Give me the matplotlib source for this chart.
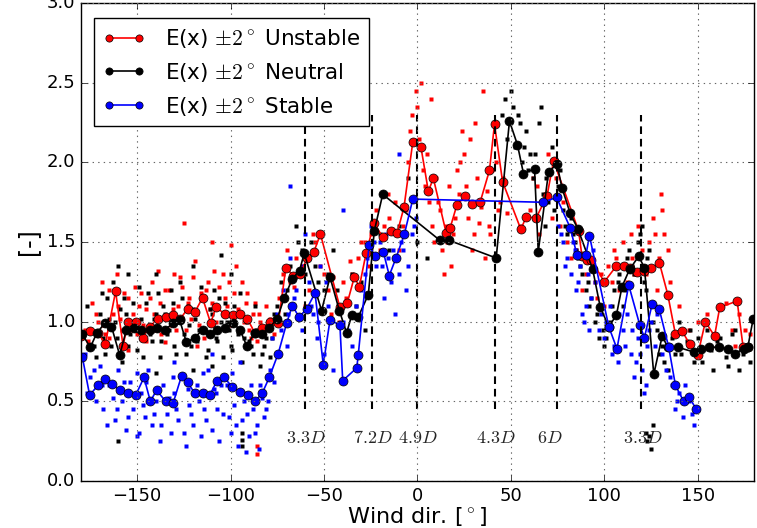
import matplotlib
matplotlib.use("Agg")
from matplotlib import pyplot as plt

plt.style.use("classic")

# Linhas E(x) +-2 graus
unst_x = [-179.8, -175.4, -170.9, -167.0, -161.5, -157.5, -154.8, -150.7, -147.1, -143.2,
          -138.8, -134.7, -130.7, -126.8, -123.0, -119.1, -115.0, -110.6, -107.9, -103.1,
          -98.9, -95.0, -91.1, -87.0, -83.1, -79.0, -74.5, -70.4, -66.5, -62.9,
          -58.9, -55.4, -51.9, -41.5, -37.5, -33.8, -31.1, -27.5, -23.2, -18.6,
          -14.4, -10.8, -7.2, -2.5, 1.8, 5.8, 8.5, 15.3, 17.5, 21.0,
          25.5, 29.1, 33.5, 38.5, 41.2, 45.5, 55.3, 58.2, 63.4, 69.3,
          72.8, 86.2, 88.0, 90.7, 93.0, 99.9, 106.4, 110.3, 113.9, 117.5,
          121.4, 125.1, 129.4, 133.9, 138.0, 141.6, 145.6, 149.9, 154.0, 158.9,
          161.7, 171.0, 174.2, 176.9]
unst_y = [0.91, 0.94, 0.93, 0.86, 1.19, 0.85, 1.00, 1.00, 0.90, 0.97,
          1.02, 1.03, 1.04, 1.02, 1.08, 1.06, 1.15, 0.99, 1.09, 1.05,
          1.04, 1.05, 1.02, 0.93, 0.96, 1.00, 0.99, 1.34, 1.29, 1.30,
          1.40, 1.44, 1.55, 1.09, 1.12, 1.28, 1.22, 1.43, 1.62, 1.53,
          1.57, 1.56, 1.72, 2.13, 2.10, 1.82, 1.90, 1.56, 1.59, 1.73,
          1.79, 1.74, 1.75, 1.95, 2.24, 1.88, 1.58, 1.66, 1.65, 1.79,
          2.01, 1.57, 1.41, 1.39, 1.39, 1.25, 1.35, 1.35, 1.34, 1.31,
          1.32, 1.34, 1.37, 1.17, 0.92, 0.94, 0.86, 0.79, 1.00, 0.91,
          1.09, 1.13, 0.84, 0.84]

neut_x = [-179.3, -175.0, -171.5, -167.3, -163.7, -159.3, -155.7, -151.8, -147.7, -143.2,
          -139.6, -135.2, -130.7, -127.2, -123.6, -119.1, -115.0, -111.1, -107.5, -103.1,
          -98.6, -95.0, -91.4, -87.0, -83.4, -79.3, -75.0, -71.3, -66.9, -63.1,
          -60.6, -51.3, -46.8, -41.8, -37.9, -35.2, -31.7, -26.3, -23.1, -18.6,
          12.1, 17.1, 42.1, 49.2, 53.5, 56.7, 62.6, 64.6, 70.1, 74.6,
          77.3, 81.7, 85.9, 93.7, 97.8, 102.3, 106.4, 109.4, 113.5, 118.3,
          121.4, 126.4, 130.9, 133.9, 139.2, 147.8, 151.7, 155.8, 161.2, 166.0,
          169.7, 174.6, 176.7, 179.6]
neut_y = [0.92, 0.84, 0.93, 0.99, 0.97, 0.79, 0.95, 0.96, 0.95, 0.95,
          0.96, 0.95, 0.99, 1.01, 0.87, 0.90, 0.95, 0.92, 0.95, 0.96,
          0.99, 0.95, 0.85, 0.93, 0.92, 0.96, 1.02, 1.15, 1.27, 1.32,
          1.43, 1.07, 1.28, 1.07, 0.93, 1.04, 1.03, 1.17, 1.57, 1.80,
          1.51, 1.51, 1.40, 2.26, 2.11, 1.93, 1.96, 1.44, 1.94, 1.99,
          1.84, 1.68, 1.58, 1.33, 1.09, 0.97, 1.04, 1.22, 1.33, 1.41,
          1.34, 0.67, 0.91, 0.84, 0.84, 0.81, 0.83, 0.84, 0.84, 0.83,
          0.80, 0.83, 0.84, 1.02]

stab_x = [-179.3, -175.4, -170.9, -167.0, -163.4, -159.3, -154.8, -150.7, -146.3, -142.9,
          -139.6, -134.7, -130.7, -126.2, -123.0, -119.1, -115.0, -111.1, -107.2, -103.4,
          -99.1, -95.0, -90.9, -87.0, -83.1, -79.3, -74.5, -70.0, -67.0, -63.3,
          -59.3, -54.8, -50.4, -46.8, -41.5, -40.0, -32.5, -31.7, -25.9, -22.7,
          -18.3, -15.1, -11.5, -7.0, -2.5, 67.1, 74.4, 81.7, 85.3, 90.1,
          92.0, 102.3, 106.7, 113.0, 118.9, 121.4, 125.5, 129.3, 134.4, 138.0,
          142.4, 145.1, 149.2]
stab_y = [0.78, 0.54, 0.60, 0.64, 0.61, 0.57, 0.55, 0.54, 0.65, 0.50,
          0.57, 0.50, 0.49, 0.66, 0.62, 0.55, 0.55, 0.54, 0.63, 0.65,
          0.59, 0.56, 0.54, 0.50, 0.55, 0.65, 0.80, 0.99, 1.10, 1.03,
          1.08, 1.18, 0.73, 1.01, 0.98, 0.63, 0.71, 0.79, 1.48, 1.41,
          1.44, 1.29, 1.40, 1.55, 1.77, 1.75, 1.78, 1.59, 1.42, 1.42,
          1.54, 0.97, 0.83, 1.23, 0.98, 0.90, 1.11, 1.08, 0.84, 0.60,
          0.50, 0.53, 0.45]

# Pontos individuais
red_px = [-172, -168, -165, -160, -158, -155, -152, -150, -148, -145, -142, -140, -138, -135,
          -132, -130, -128, -126, -124, -122, -120, -118, -116, -114, -112, -110, -108, -106,
          -104, -102, -100, -98, -96, -94, -92, -90, -88, -86, -84, -82, -125, -155, -145, -110,
          -100, -118, -135, -165, -86, -86,
          -68, -65, -62, -58, -55, -52, -48, -45, -42, -38, -35, -32, -28, -25, -22, -18, -15,
          -12, -10, -8, -5, -3, -1, 0, 2, 3, 5, 6, 8, 10, 12, 13, 14, 16, 18, 20, 22, 23, 24,
          25, 26, 27, 28, 30, 32, 34, 36, 38, 40, 42, 35, 44, 46, 48, 55, 60, 62, 65, 68, 70,
          72, 78, 80, 85, 88, 90, 95, 100, 102, 105, 108, 110, 112, 115, 118, 120, 122, 124,
          126, 128, 130, 132, 135, 140, 145, 150, 160, 165, 170, 175, 178]
red_py = [1.05, 0.98, 1.20, 1.10, 0.95, 1.15, 1.05, 0.92, 1.18, 1.08, 1.25, 0.95, 1.12, 1.20,
          0.98, 1.30, 1.10, 1.22, 0.95, 1.15, 1.28, 1.05, 1.18, 0.90, 1.25, 1.12, 1.00, 1.22,
          1.30, 1.10, 0.98, 1.18, 1.08, 1.25, 1.12, 0.95, 1.05, 0.88, 1.00, 0.92, 1.62, 0.82,
          0.88, 1.50, 1.48, 0.85, 0.87, 0.90, 0.17, 0.22,
          1.25, 1.40, 1.35, 1.20, 1.50, 1.35, 1.20, 1.28, 1.00, 1.15, 1.30, 1.40, 1.50, 1.55,
          1.70, 1.60, 1.65, 1.75, 1.45, 1.60, 2.00, 2.30, 2.45, 2.35, 2.50, 1.95, 2.05, 1.75,
          1.60, 1.90, 1.70, 1.45, 1.30, 1.50, 1.35, 1.65, 1.80, 2.00, 2.20, 2.05, 1.85, 1.65,
          2.15, 1.55, 1.90, 1.72, 1.40, 1.60, 1.95, 2.00, 2.45, 1.75, 1.90, 1.68, 1.60, 1.70,
          1.90, 1.55, 1.80, 2.05, 1.65, 1.75, 1.50, 1.45, 1.20, 1.30, 1.25, 1.10, 1.35, 1.45,
          1.20, 1.50, 1.25, 1.40, 1.60, 1.45, 1.30, 1.50, 1.65, 1.20, 1.80, 1.55, 1.25, 1.10,
          0.95, 1.00, 0.90, 1.12, 0.85, 0.95, 0.92]
red_px2 = [-178, -176, -174, -171, -169, -167, -163, -161, -159, -157, -153, -151, -149, -147,
           -143, -141, -139, -137, -133, -131, -129, -127, -123, -121, -119, -117, -113, -111,
           -109, -107, -103, -101, -99, -97, -93, -91, -89, -87, -85, -83, -81, -79, -77, -74,
           -72, -70, -66, -60, -56, -50, -46, -40, -36, -30, -26, -20, -16, -6, -4, 1, 4, 7, 9,
           11, 15, 17, 19, 21, 29, 31, 33, 37, 39, 43, 64, 66, 74, 76, 82, 96, 98, 104, 106,
           114, 116, 119, 127, 129, 131, 134, 155, 168, 172]
red_py2 = [0.95, 0.88, 1.12, 1.00, 1.25, 0.92, 1.05, 1.30, 1.02, 1.18, 0.95, 1.22, 1.10, 0.98,
           1.15, 1.05, 1.32, 0.92, 1.20, 1.08, 0.95, 1.28, 1.12, 1.02, 1.38, 0.98, 1.20, 1.08,
           1.32, 0.95, 1.15, 1.25, 1.05, 1.35, 1.00, 1.18, 0.90, 1.12, 1.05, 0.95, 1.10, 1.02,
           0.92, 1.15, 1.30, 1.45, 1.22, 1.10, 1.55, 1.30, 1.05, 1.25, 1.38, 1.50, 1.35, 1.45,
           1.80, 1.70, 2.20, 2.15, 1.85, 2.40, 1.50, 1.75, 1.60, 1.85, 1.55, 1.95, 1.45, 2.25,
           1.62, 1.82, 1.55, 1.70, 1.85, 1.75, 1.90, 1.60, 1.40, 1.15, 1.30, 1.25, 1.40, 1.55,
           1.30, 1.42, 1.55, 1.40, 1.70, 1.45, 1.05, 0.95, 1.05]

blk_px = [-175, -172, -170, -168, -166, -164, -162, -160, -158, -156, -154, -152, -150, -148,
          -146, -144, -142, -140, -138, -136, -134, -132, -130, -128, -126, -124, -122, -120,
          -118, -116, -114, -112, -110, -108, -106, -104, -102, -100, -98, -96, -94, -92, -90,
          -88, -86, -84, -82, -80, -78, -160, -155, -140, -120, -105, -100, -140, -120, -110,
          -160, -94, -94, -94,
          -75, -70, -68, -65, -62, -60, -57, -55, -50, -45, -40, -35, -30, -28, -20, -15, -10,
          -5, 0, 5, 45, 47, 50, 52, 54, 56, 58, 60, 62, 65, 66, 68, 70, 72, 75, 78, 80, 82, 84,
          86, 88, 90, 92, 95, 97, 100, 103, 105, 108, 110, 112, 115, 118, 120, 121, 122, 124,
          126, 128, 130, 132, 135, 138, 140, 142, 145, 148, 150, 155, 158, 160, 165, 168, 172,
          175, 178, 122, 123, 125, 126, 124]
blk_py = [0.95, 0.78, 1.05, 0.90, 1.15, 0.85, 1.00, 1.20, 0.75, 1.05, 0.92, 1.12, 0.82, 1.02,
          0.95, 1.18, 0.88, 1.05, 0.78, 1.10, 0.92, 1.20, 0.85, 1.00, 1.15, 0.80, 0.98, 1.08,
          0.88, 1.22, 0.95, 0.82, 1.05, 0.90, 1.15, 0.78, 1.00, 0.85, 1.10, 0.92, 0.75, 1.02,
          0.88, 0.80, 0.95, 0.72, 0.85, 1.00, 0.90, 1.35, 1.30, 1.30, 1.35, 1.42, 1.30, 0.68,
          0.70, 0.72, 0.25, 0.22, 0.26, 0.30,
          1.10, 1.20, 1.35, 1.60, 1.45, 1.30, 1.50, 1.35, 1.20, 1.45, 1.10, 1.30, 1.25, 0.95,
          1.55, 1.45, 1.60, 1.90, 1.50, 1.40, 2.30, 2.40, 2.45, 2.10, 2.30, 2.00, 2.20, 2.05,
          1.90, 2.25, 2.35, 1.60, 1.75, 2.10, 1.85, 1.70, 1.55, 1.65, 1.50, 1.40, 1.30, 1.20,
          1.10, 1.00, 0.90, 0.85, 1.00, 1.20, 1.30, 1.10, 1.40, 1.35, 1.50, 1.60, 1.25, 1.20,
          1.45, 1.00, 0.95, 0.90, 0.75, 0.85, 0.80, 1.00, 0.95, 0.85, 0.75, 0.90, 0.95, 0.70,
          0.88, 0.78, 0.92, 0.70, 0.85, 0.75, 0.30, 0.25, 0.20, 0.35, 0.28]
blk_px2 = [-177, -173, -171, -169, -167, -165, -163, -161, -159, -157, -155, -153, -151, -149,
           -147, -145, -143, -141, -139, -137, -135, -133, -131, -129, -127, -125, -123, -121,
           -119, -117, -115, -113, -111, -109, -107, -105, -103, -101, -99, -97, -95, -93, -91,
           -89, -87, -85, -83, -81, -79, -77, -73, -71, -64, -58, -53, -48, -43, -33, 48, 51,
           55, 57, 59, 63, 67, 69, 73, 76, 79, 83, 85, 87, 91, 93, 96, 99, 101, 104, 107, 109,
           111, 113, 116, 119, 123, 127, 129, 131, 134, 136, 141, 144, 146, 152, 157, 162,
           166, 170, 174]
blk_py2 = [1.10, 0.85, 0.92, 1.18, 0.80, 1.02, 1.25, 0.90, 1.08, 1.15, 0.85, 1.00, 0.95, 1.22,
           0.78, 1.12, 0.92, 1.02, 1.18, 0.88, 1.05, 0.95, 1.12, 0.80, 1.25, 0.92, 1.10, 0.85,
           1.02, 0.95, 1.15, 0.78, 1.08, 1.20, 0.88, 1.00, 1.12, 0.95, 0.82, 1.05, 1.18, 0.90,
           1.00, 0.85, 1.10, 0.95, 0.80, 0.90, 0.78, 1.05, 1.25, 1.05, 1.50, 1.40, 1.25, 1.30,
           1.20, 1.10, 2.15, 2.35, 2.25, 2.10, 1.95, 2.05, 1.80, 1.90, 1.70, 1.95, 1.60, 1.55,
           1.45, 1.35, 1.25, 1.15, 1.05, 0.95, 0.90, 1.10, 1.25, 1.35, 1.20, 1.45, 1.30, 1.55,
           1.40, 1.10, 0.80, 0.85, 0.70, 0.90, 0.80, 0.88, 0.95, 0.75, 0.82, 0.90, 0.72, 0.95,
           0.80]

blu_px = [-178, -175, -172, -170, -168, -165, -162, -160, -158, -156, -154, -152, -150, -148,
          -146, -144, -142, -140, -138, -136, -134, -132, -130, -128, -126, -124, -122, -120,
          -118, -116, -114, -112, -110, -108, -106, -104, -102, -100, -98, -96, -94, -92, -90,
          -88, -86, -84, -82, -80, -130, -110, -95, -150, -85, -92,
          -78, -75, -72, -70, -68, -66, -64, -62, -60, -58, -56, -54, -52, -50, -48, -45, -40,
          -35, -30, -28, -25, -22, -20, -18, -16, -14, -12, -10, -8, -6, -3, -1, -10, -68, -40,
          75, 78, 80, 82, 84, 85, 87, 89, 90, 92, 95, 98, 100, 103, 105, 107, 110, 112, 114,
          116, 118, 120, 121, 123, 125, 128, 130, 133, 136, 138, 140, 142, 145, 148, 150]
blu_py = [0.80, 0.65, 0.50, 0.72, 0.45, 0.60, 0.38, 0.70, 0.50, 0.32, 0.62, 0.45, 0.28, 0.55,
          0.40, 0.70, 0.35, 0.50, 0.25, 0.60, 0.42, 0.30, 0.55, 0.38, 0.65, 0.22, 0.48, 0.35,
          0.60, 0.28, 0.45, 0.70, 0.32, 0.55, 0.25, 0.42, 0.60, 0.30, 0.48, 0.22, 0.38, 0.55,
          0.28, 0.45, 0.35, 0.60, 0.40, 0.50, 0.75, 0.80, 0.75, 0.68, 0.20, 0.18,
          0.90, 1.05, 1.20, 0.85, 1.40, 1.15, 1.30, 0.95, 1.55, 1.25, 1.05, 0.90, 1.35, 0.80,
          1.10, 0.70, 1.00, 0.85, 1.20, 1.30, 1.60, 1.35, 1.50, 1.15, 1.40, 1.25, 1.05, 1.30,
          1.45, 1.20, 1.55, 1.65, 2.05, 1.85, 1.70,
          1.60, 1.50, 1.40, 1.30, 1.45, 1.20, 1.35, 1.00, 1.10, 0.95, 1.25, 1.05, 0.90, 1.10,
          0.85, 0.75, 0.95, 1.05, 0.80, 0.65, 0.90, 0.70, 0.55, 0.85, 1.00, 1.05, 0.90, 0.70,
          0.60, 0.45, 0.55, 0.40, 0.50, 0.35, 0.45]
blu_px2 = [-177, -173, -169, -166, -163, -161, -157, -155, -153, -149, -147, -145, -141, -139,
           -137, -133, -131, -129, -125, -123, -121, -117, -115, -113, -109, -107, -105, -101,
           -99, -97, -93, -91, -89, -87, -83, -81, -79, -77, -73, -69, -65, -61, -57, -53, -49,
           -37, -33, -27, -23, -19, -17, -13, -9, -5, -2, 77, 79, 83, 86, 88, 91, 93, 94, 97,
           101, 104, 108, 111, 115, 117, 119, 122, 124, 127, 131, 135, 139, 143, 147]
blu_py2 = [0.55, 0.70, 0.60, 0.35, 0.52, 0.45, 0.62, 0.40, 0.55, 0.30, 0.48, 0.62, 0.42, 0.58,
           0.35, 0.52, 0.65, 0.45, 0.30, 0.58, 0.42, 0.50, 0.68, 0.38, 0.58, 0.45, 0.60, 0.40,
           0.68, 0.35, 0.50, 0.42, 0.60, 0.30, 0.52, 0.45, 0.70, 0.62, 0.95, 1.05, 1.20, 1.35,
           1.10, 1.00, 1.25, 0.95, 1.10, 1.40, 1.50, 1.35, 1.55, 1.45, 1.50, 1.35, 1.60, 1.55,
           1.35, 1.50, 1.25, 1.05, 1.30, 1.15, 1.45, 0.95, 1.00, 0.80, 1.05, 0.85, 0.95, 0.75,
           0.80, 0.60, 0.95, 0.85, 0.80, 0.65, 0.50, 0.60, 0.42]

# Linhas verticais e rotulos
dir_linhas = [-60.2, -24.3, 0.0, 41.6, 74.8, 119.8]
dir_rotulos = [-60, -24, 0, 42, 71, 120.5]
rotulos = ['$3.3D$', '$7.2D$', '$4.9D$', '$4.3D$', '$6D$', '$3.3D$']

fig = plt.figure(figsize=(7.57, 5.28), dpi=100)
ax = fig.add_axes([0.107, 0.089, 0.889, 0.905])

ax.plot(red_px + red_px2, red_py + red_py2, 's', color='r', ms=2.4, mec='none')
ax.plot(blk_px + blk_px2, blk_py + blk_py2, 's', color='k', ms=2.4, mec='none')
ax.plot(blu_px + blu_px2, blu_py + blu_py2, 's', color='b', ms=2.4, mec='none')

ax.plot(unst_x, unst_y, 'r-o', lw=1.2, ms=6.5, label=r'E(x) $\pm 2^\circ$ Unstable')
ax.plot(neut_x, neut_y, 'k-o', lw=1.2, ms=6.5, label=r'E(x) $\pm 2^\circ$ Neutral')
ax.plot(stab_x, stab_y, 'b-o', lw=1.2, ms=6.5, label=r'E(x) $\pm 2^\circ$ Stable')

for xl in dir_linhas:
    ax.plot([xl, xl], [0.45, 2.3], 'k--', lw=1.5, dashes=(5.5, 3.5))
for xt, t in zip(dir_rotulos, rotulos):
    ax.text(xt, 0.27, t, ha='center', va='center', fontsize=13, color='0.15')

ax.set_xlim(-180, 180)
ax.set_ylim(0, 3.0)
ax.set_xticks([-150, -100, -50, 0, 50, 100, 150])
ax.set_yticks([0.0, 0.5, 1.0, 1.5, 2.0, 2.5, 3.0])
ax.tick_params(labelsize=13)
ax.grid(True, color='0.4', linestyle=':', lw=0.8)
ax.set_xlabel(r'Wind dir. [$^\circ$]', fontsize=16, labelpad=0)
ax.set_ylabel('[-]', fontsize=17)
ax.legend(loc='upper left', fontsize=15.5, numpoints=2, markerscale=0.8,
          bbox_to_anchor=(0.0, 0.995), borderaxespad=0.6, handletextpad=0.9)

fig.savefig('out.png', dpi=100)
